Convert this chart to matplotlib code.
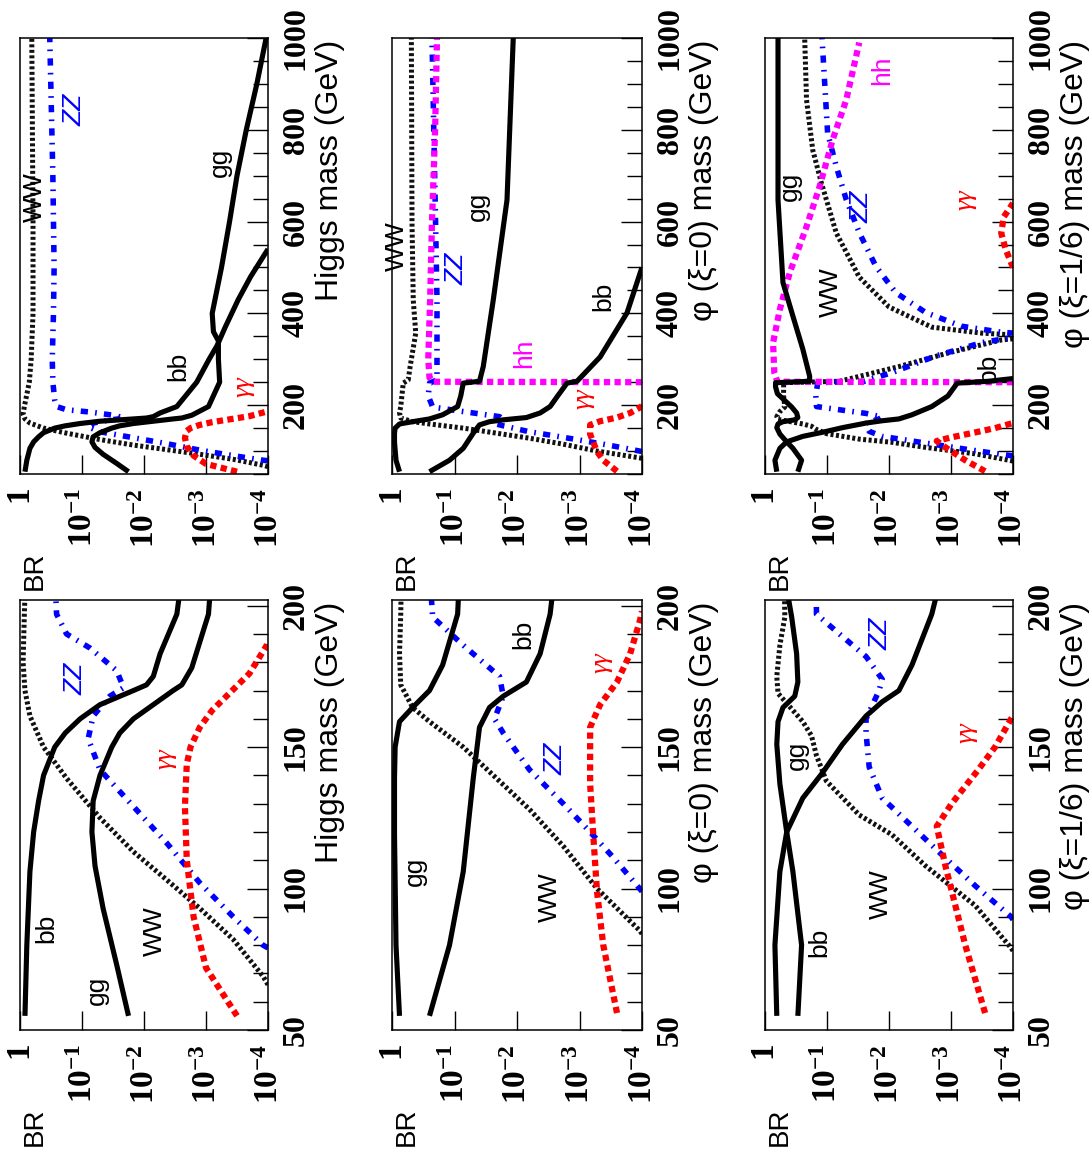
import matplotlib
matplotlib.use('Agg')
import matplotlib.pyplot as plt
import numpy as np
from matplotlib.ticker import MultipleLocator, LogLocator, NullFormatter
from matplotlib.transforms import offset_copy

plt.rcParams['mathtext.fontset'] = 'custom'
plt.rcParams['mathtext.rm'] = 'Liberation Serif:bold'
plt.rcParams['mathtext.it'] = 'Liberation Serif:bold'
plt.rcParams['mathtext.bf'] = 'Liberation Serif:bold'
plt.rcParams['axes.linewidth'] = 1.1

# ---- data: mass (GeV) and log10(BR) ----
# SM Higgs
sm_bb_m = [55, 80, 106, 120, 131, 140, 150, 155, 160, 165, 170, 172, 175, 183, 197, 250, 300, 330, 370, 430, 480, 540]
sm_bb_l = [-0.08, -0.11, -0.16, -0.22, -0.3, -0.38, -0.56, -0.73, -0.97, -1.29, -1.83, -2.04, -2.15, -2.26, -2.53,
           -2.85, -3.05, -3.18, -3.31, -3.52, -3.72, -4.0]
sm_gg_m = [55, 73, 93, 108, 120, 131, 140, 150, 155, 160, 165, 170, 172, 178, 197, 250, 300, 340, 360, 400, 500,
           600, 700, 800, 900, 1000]
sm_gg_l = [-1.75, -1.56, -1.34, -1.21, -1.16, -1.18, -1.29, -1.48, -1.61, -1.83, -2.15, -2.47, -2.61, -2.77, -3.04,
           -3.22, -3.2, -3.2, -3.12, -3.1, -3.25, -3.38, -3.5, -3.65, -3.82, -3.97]
sm_ww_m = [66, 69, 82, 93, 103, 113, 125, 139, 150, 161, 170, 180, 197, 250, 300, 400, 600, 1000]
sm_ww_l = [-4.0, -3.92, -3.44, -2.9, -2.37, -1.83, -1.29, -0.75, -0.38, -0.16, -0.08, -0.05, -0.07, -0.15, -0.18,
           -0.21, -0.21, -0.19]
sm_zz_m = [79, 80, 90, 102, 116, 129, 142, 153, 161, 168, 171, 177, 185, 190, 197, 211, 250, 300, 400, 500, 700, 1000]
sm_zz_l = [-4.0, -3.92, -3.44, -2.9, -2.37, -1.83, -1.29, -1.1, -1.18, -1.45, -1.67, -1.56, -1.13, -0.75, -0.59,
           -0.56, -0.53, -0.52, -0.54, -0.55, -0.53, -0.48]
sm_aa_m = [55, 72, 90, 110, 129, 144, 150, 157, 163, 168, 176, 186, 188]
sm_aa_l = [-3.5, -3.0, -2.8, -2.69, -2.66, -2.69, -2.75, -2.9, -3.1, -3.33, -3.7, -3.98, -4.0]

# phi, xi = 0
x0_gg_m = [55, 80, 119, 139, 150, 159, 164, 170, 179, 197, 220, 248, 252, 284, 429, 647, 1000]
x0_gg_l = [-0.12, -0.064, -0.04, -0.04, -0.05, -0.12, -0.33, -0.6, -0.81, -1.05, -1.1, -1.14, -1.4, -1.46,
           -1.62, -1.84, -1.94]
x0_bb_m = [55, 80, 106, 139, 157, 164, 168, 173, 183, 197, 220, 248, 252, 305, 401, 488, 500]
x0_bb_l = [-0.6, -0.92, -1.14, -1.3, -1.4, -1.56, -1.78, -2.15, -2.37, -2.53, -2.65, -2.8, -2.96, -3.33,
           -3.76, -3.97, -4.0]
x0_ww_m = [84, 85, 100, 115, 128, 139, 150, 159, 164, 172, 183, 197, 248, 255, 284, 357, 429, 600, 1000]
x0_ww_l = [-4.0, -3.97, -3.28, -2.74, -2.2, -1.67, -1.14, -0.6, -0.33, -0.14, -0.12, -0.14, -0.18, -0.26,
           -0.29, -0.38, -0.34, -0.32, -0.31]
x0_zz_m = [99, 111, 120, 130, 142, 155, 160, 168, 175, 186, 196, 220, 248, 255, 300, 430, 650, 1000]
x0_zz_l = [-4.0, -3.54, -3.17, -2.74, -2.2, -1.78, -1.64, -1.78, -1.72, -1.14, -0.65, -0.58, -0.6, -0.72,
           -0.72, -0.72, -0.69, -0.64]
x0_aa_m = [56, 80, 99, 119, 137, 157, 165, 173, 183, 195, 198]
x0_aa_l = [-3.6, -3.38, -3.28, -3.22, -3.17, -3.17, -3.33, -3.6, -3.81, -3.97, -4.0]
x0_hh_m = [250, 251, 260, 300, 430, 600, 800, 1000]
x0_hh_l = [-4.0, -0.65, -0.6, -0.58, -0.61, -0.64, -0.69, -0.72]

# phi, xi = 1/6
x6_gg_m = [55, 80, 106, 120, 137, 151, 159, 164, 168, 173, 183, 196, 210, 225, 240, 249, 252, 263, 322, 394,
           467, 647, 1000]
x6_gg_l = [-0.53, -0.59, -0.45, -0.35, -0.24, -0.19, -0.21, -0.29, -0.48, -0.53, -0.51, -0.43, -0.32, -0.2,
           -0.17, -0.17, -0.72, -0.72, -0.61, -0.45, -0.29, -0.21, -0.21]
x6_bb_m = [55, 80, 106, 120, 132, 141, 151, 161, 166, 170, 179, 197, 220, 248, 252, 258]
x6_bb_l = [-0.19, -0.16, -0.24, -0.35, -0.61, -0.93, -1.25, -1.63, -1.89, -2.16, -2.37, -2.69, -2.95, -3.1,
           -3.6, -4.0]
x6_ww_m = [78, 79, 94, 108, 119, 126, 138, 147, 154, 159, 165, 169, 175, 186, 196, 220, 249, 252, 284, 314,
           342, 350, 357, 370, 414, 479, 575, 684, 756, 865, 1000]
x6_ww_l = [-4.0, -3.97, -3.39, -2.59, -2.05, -1.52, -0.99, -0.83, -0.75, -0.61, -0.37, -0.21, -0.19, -0.24,
           -0.32, -0.3, -0.3, -1.2, -2.16, -2.96, -3.81, -4.4, -3.49, -2.69, -2.0, -1.52, -1.15, -0.91, -0.77,
           -0.67, -0.64]
x6_zz_m = [89, 90, 101, 112, 122, 132, 143, 155, 160, 170, 174, 182, 190, 197, 220, 249, 252, 271, 307, 336,
           348, 353, 359, 372, 402, 445, 502, 576, 648, 720, 793, 1000]
x6_zz_l = [-4.0, -3.97, -3.39, -2.85, -2.37, -1.89, -1.68, -1.63, -1.63, -1.84, -1.89, -1.63, -1.2, -0.83,
           -0.82, -0.85, -1.6, -2.05, -2.75, -3.49, -4.0, -4.4, -3.81, -3.17, -2.59, -2.11, -1.79, -1.52,
           -1.31, -1.15, -1.01, -0.92]
x6_aa_m = [56, 80, 108, 122, 130, 142, 150, 160, 161, np.nan, 500, 540, 575, 610, 640]
x6_aa_l = [-3.55, -3.23, -2.91, -2.77, -3.01, -3.44, -3.71, -3.97, -4.0, np.nan, -4.0, -3.88, -3.81, -3.85, -4.0]
x6_hh_m = [250, 251, 271, 336, 409, 489, 589, 676, 778, 865, 990]
x6_hh_l = [-4.0, -0.2, -0.15, -0.13, -0.24, -0.4, -0.67, -0.88, -1.09, -1.31, -1.52]

# curve labels: (text, log10 BR, mass)
sm_lab_low = [('bb', -0.43, 86), ('gg', -1.24, 64), ('WW', -2.18, 85), ('ZZ', -0.89, 174), ('γγ', -2.34, 146)]
sm_lab_up = [('WW', -0.24, 654), ('ZZ', -0.88, 843), ('gg', -3.23, 728), ('bb', -2.56, 285), ('γγ', -3.6, 241)]
x0_lab_low = [('gg', -0.36, 106), ('WW', -2.53, 97), ('ZZ', -2.61, 146), ('bb', -2.1, 190), ('γγ', -3.36, 180)]
x0_lab_up = [('WW', -0.08, 546), ('ZZ', -1.04, 496), ('gg', -1.38, 633), ('hh', -2.12, 314), ('bb', -3.38, 437),
             ('γγ', -3.06, 215)]
x6_lab_low = [('bb', -0.88, 81), ('gg', -0.51, 147), ('WW', -1.87, 98), ('ZZ', -1.87, 190), ('γγ', -3.25, 155)]
x6_lab_up = [('gg', -0.4, 676), ('WW', -1.07, 446), ('ZZ', -1.55, 633), ('hh', -1.89, 930), ('bb', -3.6, 280),
             ('γγ', -3.23, 648)]

titles = ['Higgs mass (GeV)', 'φ (ξ=0) mass (GeV)', 'φ (ξ=1/6) mass (GeV)']

models = [
    {'bb': (sm_bb_m, sm_bb_l), 'gg': (sm_gg_m, sm_gg_l), 'WW': (sm_ww_m, sm_ww_l),
     'ZZ': (sm_zz_m, sm_zz_l), 'aa': (sm_aa_m, sm_aa_l)},
    {'bb': (x0_bb_m, x0_bb_l), 'gg': (x0_gg_m, x0_gg_l), 'WW': (x0_ww_m, x0_ww_l),
     'ZZ': (x0_zz_m, x0_zz_l), 'aa': (x0_aa_m, x0_aa_l), 'hh': (x0_hh_m, x0_hh_l)},
    {'bb': (x6_bb_m, x6_bb_l), 'gg': (x6_gg_m, x6_gg_l), 'WW': (x6_ww_m, x6_ww_l),
     'ZZ': (x6_zz_m, x6_zz_l), 'aa': (x6_aa_m, x6_aa_l), 'hh': (x6_hh_m, x6_hh_l)},
]
labels_up = [sm_lab_up, x0_lab_up, x6_lab_up]
labels_low = [sm_lab_low, x0_lab_low, x6_lab_low]

line_style = {
    'WW': dict(color='#111111', lw=3.6, ls=(0, (0.6, 0.5))),
    'ZZ': dict(color='#0000ff', lw=4.0, ls=(0, (1.3, 1.3, 0.3, 1.3))),
    'hh': dict(color='#ff00ff', lw=4.5, ls=(0, (1.0, 0.7))),
    'aa': dict(color='#ff0000', lw=4.5, ls=(0, (1.0, 0.7))),
    'bb': dict(color='black', lw=3.7, ls='-'),
    'gg': dict(color='black', lw=3.7, ls='-'),
}
text_style = {
    'bb': dict(color='black', family='Liberation Sans'),
    'gg': dict(color='black', family='Liberation Sans'),
    'WW': dict(color='black', family='Liberation Sans'),
    'ZZ': dict(color='#0000ff', family='Liberation Sans', style='italic'),
    'γγ': dict(color='#ff0000', family='Liberation Serif', style='italic'),
    'hh': dict(color='#ff00ff', family='Liberation Sans'),
}

W, H = 1089, 1154
cols_px = [(20, 268), (392, 642), (765, 1013)]
rows_px = {'up': (38, 474), 'low': (600, 1030)}

fig = plt.figure(figsize=(W / 100, H / 100), dpi=100)


def make_axes(x0, x1, y0, y1):
    return fig.add_axes([x0 / W, 1 - y1 / H, (x1 - x0) / W, (y1 - y0) / H])


def draw_panel(ax, model, labels, title, lower):
    for key in ['WW', 'ZZ', 'hh', 'aa', 'bb', 'gg']:
        if key not in model:
            continue
        m, lg = model[key]
        st = line_style[key]
        ax.plot(10 ** np.array(lg, dtype=float), m, color=st['color'], lw=st['lw'],
                linestyle=st['ls'], solid_capstyle='butt')
    for txt, lg, m in labels:
        ax.text(10 ** lg, m, txt, rotation=90, ha='center', va='center', fontsize=19, **text_style[txt])

    ax.set_xscale('log')
    ax.set_xlim(1, 1e-4)
    ax.set_xticks([1, 1e-1, 1e-2, 1e-3, 1e-4],
                  labels=['$1$', '$10^{-1}$', '$10^{-2}$', '$10^{-3}$', '$10^{-4}$'])
    ax.xaxis.set_minor_locator(LogLocator(base=10, subs=np.arange(2, 10)))
    ax.xaxis.set_minor_formatter(NullFormatter())

    if lower:
        ax.set_ylim(50, 202)
        yt = [50, 100, 150, 200]
        ax.yaxis.set_minor_locator(MultipleLocator(10))
    else:
        ax.set_ylim(50, 1000)
        yt = [200, 400, 600, 800, 1000]
        ax.yaxis.set_minor_locator(MultipleLocator(50))
    ax.set_yticks(yt, labels=[str(v) for v in yt])

    ax.tick_params(axis='x', which='major', direction='in', length=14, width=1.0,
                   bottom=True, top=False, pad=10, labelsize=24, labelrotation=90)
    ax.tick_params(axis='x', which='minor', direction='in', length=7, width=1.0, bottom=True, top=False)
    ax.tick_params(axis='y', which='major', direction='in', length=15, width=1.0, left=False, right=True,
                   labelleft=False, labelright=True, pad=10, labelsize=23, labelrotation=90)
    ax.tick_params(axis='y', which='minor', direction='in', length=11, width=1.0, left=False, right=True)
    for lbl in ax.get_yticklabels():
        lbl.set_fontfamily('Liberation Serif')
        lbl.set_fontweight('bold')
        lbl.set_va('center')

    ax.text(1, 1, title, transform=offset_copy(ax.transAxes, fig=fig, x=47, y=-2, units='dots'),
            rotation=90, ha='left', va='top', fontsize=23, family='Liberation Sans')
    ax.text(0, 0, 'BR', transform=offset_copy(ax.transAxes, fig=fig, x=2, y=-77, units='dots'),
            rotation=90, ha='left', va='top', fontsize=20, family='Liberation Sans')


for i, (cx0, cx1) in enumerate(cols_px):
    ax_up = make_axes(cx0, cx1, *rows_px['up'])
    draw_panel(ax_up, models[i], labels_up[i], titles[i], lower=False)
    ax_low = make_axes(cx0, cx1, *rows_px['low'])
    draw_panel(ax_low, models[i], labels_low[i], titles[i], lower=True)

fig.savefig('out.png', dpi=100)
